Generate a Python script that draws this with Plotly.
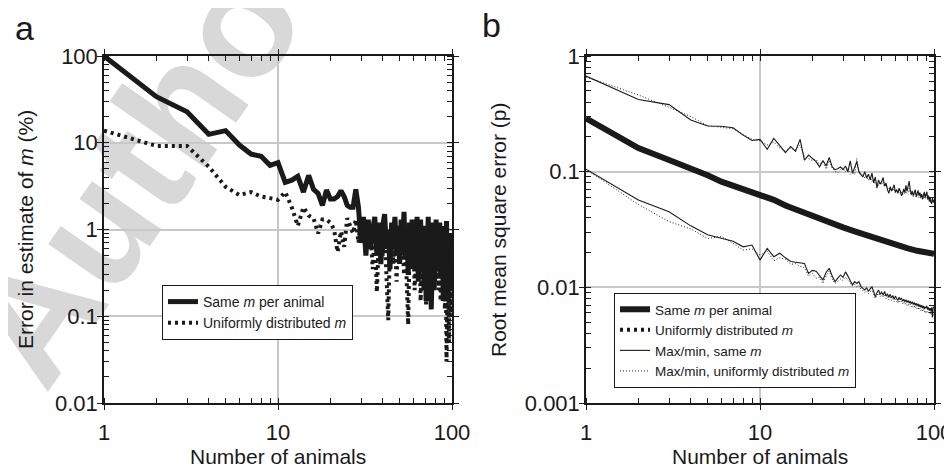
import plotly.graph_objects as go

# ---------------- data ----------------
n_all = list(range(1, 101))

# panel a
err_same_m = [100, 34, 22.8, 12.5, 13.8, 9.4, 7.4, 7.0, 5.5, 5.9,
              3.5, 3.7, 4.1, 2.7, 4.2, 2.9, 2.6, 1.9, 2.85, 2.25,
              2.25, 2.4, 2.8, 2.4, 1.9, 1.8, 1.8, 2.9, 1.8, 0.7,
              1.4, 0.5, 1.3, 0.6, 1.0, 1.4, 0.5, 1.2, 0.4, 1.1,
              1.5, 0.6, 1.0, 0.35, 1.2, 0.8, 1.4, 0.5, 1.1, 0.4,
              1.3, 0.7, 1.6, 0.45, 1.0, 0.3, 1.2, 0.6, 1.3, 0.35,
              1.1, 0.5, 1.4, 0.25, 0.9, 1.3, 0.4, 1.0, 0.2, 1.1,
              0.15, 0.9, 1.4, 0.3, 1.0, 0.12, 0.8, 1.2, 0.2, 0.9,
              1.3, 0.35, 1.0, 0.5, 1.2, 0.3, 0.9, 1.1, 0.15, 1.0,
              0.2, 0.8, 1.25, 0.15, 0.7, 0.25, 0.9, 0.2, 0.6, 0.45]
err_uniform_m = [13.8, 9.2, 9.2, 5.3, 3.1, 2.5, 2.7, 2.4, 2.3, 2.2,
                 2.7, 1.8, 1.1, 1.8, 1.45, 1.35, 0.9, 1.3, 1.3, 1.2,
                 1.0, 0.55, 0.95, 0.63, 1.35, 1.1, 0.9, 1.3, 0.7, 1.4,
                 0.8, 1.2, 0.6, 1.0, 0.35, 0.9, 0.19, 0.8, 1.1, 0.5,
                 1.0, 0.3, 0.09, 0.7, 1.1, 0.4, 0.9, 0.25, 0.8, 1.0,
                 0.45, 0.9, 0.3, 0.7, 0.25, 0.08, 0.6, 1.0, 0.35, 0.8,
                 0.2, 0.7, 1.1, 0.3, 0.8, 0.15, 0.6, 0.9, 0.25, 0.7,
                 0.13, 0.5, 1.0, 0.2, 0.8, 0.15, 0.6, 0.9, 0.25, 0.7,
                 1.0, 0.3, 0.8, 0.2, 0.9, 0.15, 0.6, 1.0, 0.3, 0.7,
                 0.12, 0.5, 0.03, 0.4, 0.8, 0.05, 0.6, 0.1, 0.5, 0.3]

# panel b
n_rms = [1, 2, 3, 4, 5, 6, 7, 8, 9, 10, 12, 14, 16, 18, 20, 23, 26, 30,
         35, 40, 45, 50, 56, 63, 70, 80, 90, 100]
rms_same_m = [0.289, 0.16, 0.126, 0.107, 0.093, 0.082, 0.076, 0.071, 0.067, 0.064,
              0.057, 0.051, 0.047, 0.044, 0.042, 0.038, 0.036, 0.033,
              0.0305, 0.0285, 0.027, 0.0255, 0.024, 0.0228, 0.0218, 0.0207, 0.0200, 0.0195]
rms_uniform_m = [0.285, 0.158, 0.127, 0.106, 0.092, 0.083, 0.075, 0.070, 0.066, 0.063,
                 0.057, 0.052, 0.047, 0.044, 0.0415, 0.0385, 0.0358, 0.0332,
                 0.0302, 0.0283, 0.0268, 0.0256, 0.0242, 0.0229, 0.0217, 0.0206, 0.0199, 0.0193]

max_same_m = [0.67, 0.42, 0.38, 0.28, 0.248, 0.247, 0.24, 0.207, 0.186, 0.19,
              0.156, 0.194, 0.168, 0.146, 0.165, 0.15, 0.19, 0.126, 0.139, 0.13,
              0.122, 0.11, 0.125, 0.112, 0.133, 0.11, 0.104, 0.106, 0.11, 0.104,
              0.112, 0.1, 0.124, 0.097, 0.11, 0.122, 0.1, 0.095, 0.09, 0.1,
              0.088, 0.095, 0.085, 0.097, 0.08, 0.09, 0.072, 0.085, 0.078, 0.082,
              0.089, 0.075, 0.08, 0.07, 0.065, 0.074, 0.068, 0.072, 0.077, 0.066,
              0.07, 0.065, 0.072, 0.068, 0.062, 0.065, 0.071, 0.066, 0.076, 0.068,
              0.074, 0.083, 0.07, 0.064, 0.068, 0.062, 0.066, 0.07, 0.061, 0.065,
              0.069, 0.062, 0.066, 0.06, 0.064, 0.058, 0.063, 0.067, 0.06, 0.064,
              0.067, 0.058, 0.062, 0.056, 0.06, 0.054, 0.053, 0.059, 0.055, 0.057]
max_uniform_m = [0.66, 0.46, 0.36, 0.30, 0.25, 0.24, 0.235, 0.21, 0.19, 0.185,
                 0.17, 0.18, 0.16, 0.15, 0.16, 0.155, 0.17, 0.135, 0.13, 0.125,
                 0.128, 0.115, 0.12, 0.105, 0.125, 0.108, 0.1, 0.098, 0.104, 0.108,
                 0.1, 0.106, 0.095, 0.1, 0.094, 0.13, 0.098, 0.092, 0.095, 0.088,
                 0.092, 0.084, 0.09, 0.082, 0.086, 0.078, 0.08, 0.076, 0.08, 0.078,
                 0.082, 0.074, 0.077, 0.071, 0.073, 0.069, 0.072, 0.068, 0.071, 0.067,
                 0.069, 0.066, 0.07, 0.065, 0.067, 0.063, 0.068, 0.064, 0.07, 0.065,
                 0.067, 0.072, 0.066, 0.062, 0.066, 0.061, 0.064, 0.066, 0.06, 0.063,
                 0.065, 0.06, 0.063, 0.059, 0.062, 0.057, 0.061, 0.063, 0.058, 0.061,
                 0.063, 0.057, 0.06, 0.055, 0.058, 0.054, 0.056, 0.057, 0.053, 0.055]
min_same_m = [0.105, 0.057, 0.045, 0.034, 0.0285, 0.0265, 0.025, 0.0224, 0.0232, 0.0172,
              0.0217, 0.0184, 0.0197, 0.018, 0.0167, 0.0165, 0.0163, 0.0161, 0.0132, 0.014,
              0.0138, 0.0125, 0.0116, 0.0135, 0.0146, 0.0125, 0.0112, 0.012, 0.0128, 0.0122,
              0.0136, 0.0125, 0.0115, 0.0105, 0.0112, 0.0108, 0.0112, 0.0102, 0.0098, 0.0095,
              0.0099, 0.0093, 0.0097, 0.0101, 0.0092, 0.0083, 0.009, 0.0095, 0.0087, 0.0091,
              0.0086, 0.0092, 0.0084, 0.0088, 0.0082, 0.0087, 0.0081, 0.0085, 0.0079, 0.0084,
              0.008, 0.0077, 0.0082, 0.0078, 0.0081, 0.0076, 0.0079, 0.0075, 0.0078, 0.0074,
              0.0077, 0.0073, 0.0076, 0.0072, 0.0075, 0.0071, 0.0074, 0.007, 0.0073, 0.0069,
              0.0072, 0.0068, 0.0071, 0.0067, 0.007, 0.0066, 0.0069, 0.0065, 0.0068, 0.0066,
              0.0069, 0.0064, 0.0067, 0.0063, 0.0066, 0.0062, 0.0067, 0.0055, 0.0068, 0.0066]
min_uniform_m = [0.105, 0.052, 0.037, 0.032, 0.0265, 0.0275, 0.024, 0.021, 0.0215, 0.019,
                 0.0205, 0.017, 0.018, 0.0175, 0.0158, 0.016, 0.0152, 0.0148, 0.0125, 0.0132,
                 0.012, 0.0122, 0.0108, 0.0126, 0.0138, 0.0118, 0.0108, 0.0114, 0.0118, 0.0115,
                 0.0122, 0.0116, 0.0108, 0.0103, 0.0106, 0.0101, 0.0104, 0.0097, 0.0094, 0.009,
                 0.0093, 0.0088, 0.0092, 0.0094, 0.0087, 0.008, 0.0085, 0.0089, 0.0083, 0.0086,
                 0.0082, 0.0087, 0.008, 0.0083, 0.0078, 0.0082, 0.0077, 0.008, 0.0075, 0.0079,
                 0.0076, 0.0073, 0.0077, 0.0074, 0.0076, 0.0072, 0.0075, 0.0071, 0.0073, 0.007,
                 0.0072, 0.0069, 0.0071, 0.0068, 0.007, 0.0067, 0.0069, 0.0066, 0.0068, 0.0065,
                 0.0067, 0.0064, 0.0066, 0.0063, 0.0065, 0.0062, 0.0064, 0.0061, 0.0063, 0.006,
                 0.0062, 0.006, 0.0061, 0.0059, 0.006, 0.0058, 0.0059, 0.0057, 0.0058, 0.0056]

x_tickvals = [1, 10, 100]
x_ticktext = ["1", "10", "100"]
ya_tickvals = [0.01, 0.1, 1, 10, 100]
ya_ticktext = ["0.01", "0.1", "1", "10", "100"]
yb_tickvals = [0.001, 0.01, 0.1, 1]
yb_ticktext = ["0.001", "0.01", "0.1", "1"]

# ---------------- figure ----------------
FONT = "Liberation Sans, Arial, Helvetica, sans-serif"
INK = "#1a1a1a"
GRID = "#c8c8c8"

# the page body has an 8px margin: lay out in window pixels, convert to paper coords
OX, OY = 8, 8
W, H = 952 - OX, 469 - OY


def px(x):
    return (x - OX) / W


def py(y):
    return 1 - (y - OY) / H


fig = go.Figure()

# panel a
fig.add_trace(go.Scatter(x=n_all, y=err_same_m, mode="lines", name="Same <i>m</i> per animal",
                         line=dict(color=INK, width=5), xaxis="x", yaxis="y", legend="legend"))
fig.add_trace(go.Scatter(x=n_all, y=err_uniform_m, mode="lines", name="Uniformly distributed <i>m</i>",
                         line=dict(color=INK, width=4, dash="3px,4px"), xaxis="x", yaxis="y",
                         legend="legend"))

# panel b
fig.add_trace(go.Scatter(x=n_rms, y=rms_same_m, mode="lines", name="Same <i>m</i> per animal",
                         line=dict(color=INK, width=6), xaxis="x2", yaxis="y2", legend="legend2"))
fig.add_trace(go.Scatter(x=n_rms, y=rms_uniform_m, mode="lines", name="Uniformly distributed <i>m</i>",
                         line=dict(color=INK, width=4, dash="3px,4px"), xaxis="x2", yaxis="y2",
                         legend="legend2"))
fig.add_trace(go.Scatter(x=n_all, y=max_same_m, mode="lines", name="Max/min, same <i>m</i>",
                         line=dict(color=INK, width=1.1), xaxis="x2", yaxis="y2", legend="legend2"))
fig.add_trace(go.Scatter(x=n_all, y=max_uniform_m, mode="lines",
                         name="Max/min, uniformly distributed <i>m</i>",
                         line=dict(color=INK, width=1, dash="1px,2px"), xaxis="x2", yaxis="y2",
                         legend="legend2"))
fig.add_trace(go.Scatter(x=n_all, y=min_same_m, mode="lines", name="Max/min, same <i>m</i>",
                         line=dict(color=INK, width=1.1), xaxis="x2", yaxis="y2", legend="legend2",
                         showlegend=False))
fig.add_trace(go.Scatter(x=n_all, y=min_uniform_m, mode="lines",
                         name="Max/min, uniformly distributed <i>m</i>",
                         line=dict(color=INK, width=1, dash="1px,2px"), xaxis="x2", yaxis="y2",
                         legend="legend2", showlegend=False))

xa_dom = [px(104), px(452)]
xb_dom = [px(586), px(934)]
y_dom = [py(403), py(56)]


def xaxis(dom, anchor):
    return dict(domain=dom, anchor=anchor, type="log", range=[0, 2],
                tickvals=x_tickvals, ticktext=x_ticktext,
                ticks="outside", ticklen=5, tickwidth=1.2, tickcolor=INK,
                ticklabelstandoff=4, ticklabeloverflow="allow",
                minor=dict(ticks="inside", ticklen=5, tickwidth=1, tickcolor=INK,
                           dtick="D1", showgrid=False),
                showline=True, linecolor=INK, linewidth=1.5, mirror="allticks",
                showgrid=True, gridcolor=GRID, gridwidth=1.5, zeroline=False,
                tickfont=dict(family=FONT, size=22, color=INK),
                automargin=False, fixedrange=True)


def yaxis(rng, tv, tt, anchor):
    return dict(domain=y_dom, anchor=anchor, type="log", range=rng,
                tickvals=tv, ticktext=tt,
                ticks="outside", ticklen=5, tickwidth=1.2, tickcolor=INK,
                ticklabelstandoff=-5, ticklabeloverflow="allow",
                minor=dict(ticks="inside", ticklen=5, tickwidth=1, tickcolor=INK,
                           dtick="D1", showgrid=False),
                showline=True, linecolor=INK, linewidth=1.5, mirror="allticks",
                showgrid=True, gridcolor=GRID, gridwidth=1.5, zeroline=False,
                tickfont=dict(family=FONT, size=22, color=INK),
                automargin=False, fixedrange=True)


legend_common = dict(bgcolor="white", bordercolor=INK, borderwidth=1,
                     xanchor="left", yanchor="top", tracegroupgap=0, itemwidth=30)

title_font = dict(family=FONT, size=21, color=INK)

fig.update_layout(
    width=W, height=H,
    margin=dict(l=0, r=0, t=0, b=0),
    paper_bgcolor="white", plot_bgcolor="rgba(0,0,0,0)",
    xaxis=xaxis(xa_dom, "y"),
    yaxis=yaxis([-2, 2], ya_tickvals, ya_ticktext, "x"),
    xaxis2=xaxis(xb_dom, "y2"),
    yaxis2=yaxis([-3, 0], yb_tickvals, yb_ticktext, "x2"),
    legend=dict(x=px(162), y=py(285), font=dict(family=FONT, size=14, color=INK), **legend_common),
    legend2=dict(x=px(614), y=py(293), font=dict(family=FONT, size=13.5, color=INK), **legend_common),
    showlegend=True,
    annotations=[
        dict(text="a", x=px(24), y=py(28), xref="paper", yref="paper", showarrow=False,
             xanchor="center", yanchor="middle", font=dict(family=FONT, size=34, color=INK)),
        dict(text="b", x=px(492), y=py(25), xref="paper", yref="paper", showarrow=False,
             xanchor="center", yanchor="middle", font=dict(family=FONT, size=34, color=INK)),
        dict(text="Number of animals", x=px(278), y=py(456), xref="paper", yref="paper",
             showarrow=False, xanchor="center", yanchor="middle", font=title_font),
        dict(text="Number of animals", x=px(760), y=py(456), xref="paper", yref="paper",
             showarrow=False, xanchor="center", yanchor="middle", font=title_font),
        dict(text="Error in estimate of <i>m</i> (%)", x=px(25), y=py(230), xref="paper",
             yref="paper", showarrow=False, textangle=-90, xanchor="center", yanchor="middle",
             font=title_font),
        dict(text="Root mean square error (p)", x=px(498), y=py(230), xref="paper",
             yref="paper", showarrow=False, textangle=-90, xanchor="center", yanchor="middle",
             font=title_font),
    ],
    shapes=[dict(type="rect", xref="paper", yref="paper",
                 x0=px(128), x1=px(148), y0=py(150), y1=py(130),
                 line=dict(width=0), fillcolor="rgba(0,0,0,0)", layer="below",
                 label=dict(text="Author", textangle=-55, textposition="middle center",
                            font=dict(family=FONT, size=160, color="#d8d8d8", weight="bold")))],
)

fig.write_html("out.html")
